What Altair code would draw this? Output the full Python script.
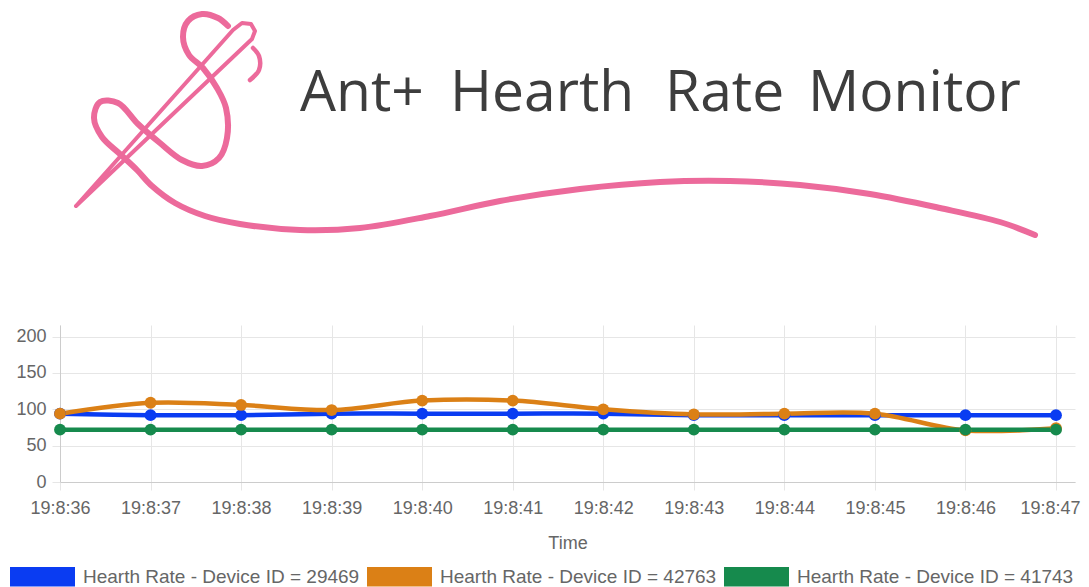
import altair as alt
import pandas as pd

# ---------------- data ----------------
times = ["19:8:36", "19:8:37", "19:8:38", "19:8:39", "19:8:40", "19:8:41",
         "19:8:42", "19:8:43", "19:8:44", "19:8:45", "19:8:46", "19:8:47"]
hr_29469 = [94, 92, 92, 94, 94, 94, 94, 92, 92, 92, 92, 92]
hr_42763 = [94, 109, 106, 99, 112, 112, 100, 93, 94, 94, 71, 74]
hr_41743 = [72, 72, 72, 72, 72, 72, 72, 72, 72, 72, 72, 72]
series_names = ["Hearth Rate - Device ID = 29469",
                "Hearth Rate - Device ID = 42763",
                "Hearth Rate - Device ID = 41743"]
series_colors = ["#0a3cf2", "#db8016", "#168a4d"]
y_ticks = [0, 50, 100, 150, 200]

title_words = ["Ant+", "Hearth", "Rate", "Monitor"]
title_word_x = [300, 450, 665, 808]

# logo decoration (page-pixel coordinates of the drawn strokes)
thread_x = [228, 218, 202, 188, 183, 189, 203, 217, 226, 227, 219, 202, 182, 160, 138, 118,
            100, 94, 102, 120, 137, 152, 175, 205, 240, 300, 360, 430, 500, 580, 660, 730,
            800, 870, 940, 1000, 1035]
thread_y = [26, 18, 14, 21, 37, 55, 68, 88, 108, 138, 158, 166, 160, 143, 124, 103,
            102, 118, 137, 154, 170, 186, 203, 216, 224, 230, 228, 216, 201, 189, 182, 181,
            185, 194, 208, 222, 235]
needle_x = [76, 233, 242, 251, 255, 252, 76]
needle_y = [206, 30, 23, 24, 31, 39, 206]
hook_x = [253, 259, 259, 250]
hook_y = [48, 56, 70, 80]

# ---------------- tables ----------------
rows = []
for name, vals in zip(series_names, [hr_29469, hr_42763, hr_41743]):
    for i, (t, v) in enumerate(zip(times, vals)):
        rows.append({"idx": i, "Time": t, "HR": v, "Series": name})
df = pd.DataFrame(rows)

deco = []
for part, xs, ys in [("thread", thread_x, thread_y),
                     ("needle", needle_x, needle_y), ("hook", hook_x, hook_y)]:
    for i, (x, y) in enumerate(zip(xs, ys)):
        deco.append({"part": part, "px": x, "py": y, "ord": i})
deco_df = pd.DataFrame(deco)

PINK = "#ec6a9b"
FONT = "Liberation Sans"
PLOT_LEFT = 60
PLOT_W = 1015

# ---------------- header ----------------
hx = alt.X("px:Q", scale=alt.Scale(domain=[PLOT_LEFT, PLOT_LEFT + PLOT_W]), axis=None)
hy = alt.Y("py:Q", scale=alt.Scale(domain=[8, 325], reverse=True), axis=None)

def deco_line(part, width, interp):
    return alt.Chart(deco_df).transform_filter(alt.datum.part == part).mark_line(
        color=PINK, strokeWidth=width, interpolate=interp, strokeCap="round",
        strokeJoin="round", clip=False
    ).encode(x=hx, y=hy, order="ord:Q")

thread = deco_line("thread", 6, "catmull-rom")
needle = deco_line("needle", 4, "linear")
hook = deco_line("hook", 4.5, "catmull-rom")

title_df = pd.DataFrame({"px": title_word_x, "py": [111] * 4, "label": title_words})
title = alt.Chart(title_df).mark_text(
    font="Open Sans", fontSize=57, fontWeight=400, color="#3d3d3d",
    align="left", baseline="alphabetic"
).encode(x=hx, y=hy, text="label:N")

header = alt.layer(thread, needle, hook, title).properties(width=PLOT_W, height=317)

# ---------------- line chart ----------------
legend_symbol = "M-1,-0.3H1V0.3H-1Z"
color = alt.Color(
    "Series:N",
    scale=alt.Scale(domain=series_names, range=series_colors),
    legend=alt.Legend(
        title=None, orient="none", direction="horizontal", legendX=-50, legendY=536,
        symbolType=legend_symbol, symbolSize=4225, symbolStrokeWidth=0, symbolOpacity=1,
        labelFont=FONT, labelFontSize=19, labelColor="#666666", labelOffset=8,
        columnPadding=7, labelLimit=400, padding=0,
    ),
)

last_idx = len(times) - 1
label_array = "[" + ",".join("'" + t + "'" for t in times) + "]"
x_max = last_idx * PLOT_W / 996.0
xenc = alt.X(
    "idx:Q", scale=alt.Scale(domain=[0, x_max], nice=False, zero=False),
    axis=alt.Axis(title="Time", values=list(range(len(times))),
                  labelExpr=label_array + "[datum.value]",
                  labelOffset={"condition": {"test": f"datum.value == {last_idx}", "value": -6},
                               "value": 0},
                  labelAngle=0, labelFont=FONT, labelFontSize=18,
                  labelColor="#666666", labelPadding=9, tickSize=8, tickColor="#e6e6e6",
                  gridColor="#e6e6e6", domainColor="#cccccc", titleFont=FONT,
                  titleFontSize=18, titleFontWeight="normal", titleColor="#666666",
                  titlePadding=17, labelOverlap=False, labelBound=False, labelFlush=False),
)
yenc = alt.Y(
    "HR:Q", scale=alt.Scale(domain=[0, 216], nice=False),
    axis=alt.Axis(title=None, values=y_ticks, labelFont=FONT,
                  labelFontSize=18, labelColor="#666666", labelPadding=6, tickSize=8,
                  tickColor="#e6e6e6", gridColor="#e6e6e6", domainColor="#cccccc",
                  minExtent=52, maxExtent=52),
)

lines = alt.Chart(df).mark_line(strokeWidth=4.5, interpolate="cardinal").encode(
    x=xenc, y=yenc, color=color, detail="Series:N"
)
points = alt.Chart(df).mark_point(filled=True, size=140, opacity=1).encode(
    x=xenc, y=yenc, color=color
)
main = alt.layer(lines, points).properties(width=PLOT_W, height=157)

chart = alt.vconcat(header, main, spacing=0).resolve_scale(
    x="independent", y="independent"
).configure_view(strokeWidth=0).properties(padding=0)

chart.save("out.html", embed_options={"renderer": "svg", "actions": False})
